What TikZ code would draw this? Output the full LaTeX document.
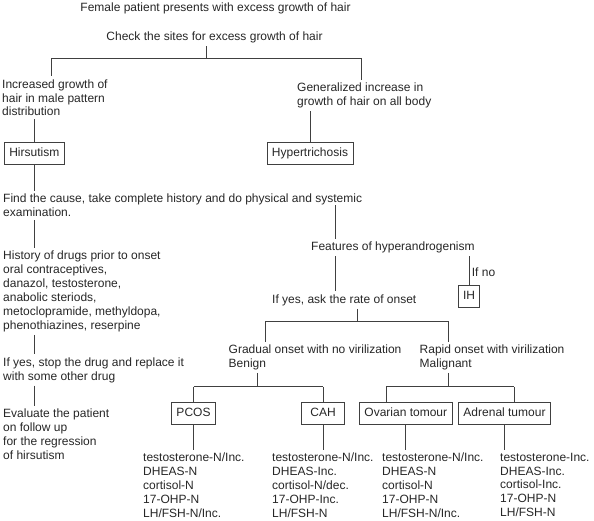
\documentclass[tikz,border=0pt]{standalone}
\usepackage{fontspec}
\setmainfont{Liberation Sans}

\begin{document}
\begin{tikzpicture}[x=1pt,y=-1pt,
  txt/.style={inner xsep=0pt,inner ysep=3pt,align=left,anchor=north west,
    font=\fontsize{12}{13.9}\selectfont,text=black!85},
  box/.style={draw=black!75,line width=0.7pt,inner xsep=5pt,minimum height=22pt,
    text height=8.6pt,text depth=2.5pt,font=\fontsize{12}{13.9}\selectfont,text=black!85},
  link/.style={draw=black!75,line width=0.7pt}]
\useasboundingbox (0,0) rectangle (594,520);

%top
\node[txt,anchor=north] (title) at (215.5,-0.6) {Female patient presents with excess growth of hair};
\node[txt,anchor=north] (check) at (214.5,28.7) {Check the sites for excess growth of hair};
\coordinate (top) at (206.5,58.3);
\coordinate (hL) at (51,58.3);
\coordinate (hR) at (361,58.3);
\draw[link] (check.south -| top) -- (top);
\draw[link] (hL) -- (hR);

%hirsutism
\node[txt] (incr) at (2,76.2) {Increased growth of\\hair in male pattern\\distribution};
\draw[link] (hL) -- (incr.north -| hL);
\node[box] (hirs) at (34.3,153.3) {Hirsutism};
\draw[link] (incr.south -| hirs.north) -- (hirs.north);

%hypertrichosis
\node[txt] (genr) at (297,79.7) {Generalized increase in\\growth of hair on all body};
\draw[link] (hR) -- (genr.north -| hR);
\node[box] (hyp) at (310,153) {Hypertrichosis};
\draw[link] (genr.south -| hyp.north) -- (hyp.north);

%history
\node[txt] (find) at (3,191) {Find the cause, take complete history and do physical and systemic\\examination.};
\draw[link] (hirs.south) -- (find.north -| hirs.south);
\node[txt] (hist) at (3,247.7) {History of drugs prior to onset\\oral contraceptives,\\danazol, testosterone,\\anabolic steriods,\\metoclopramide, methyldopa,\\phenothiazines, reserpine};
\draw[link] (find.south -| hirs.south) -- (hist.north -| hirs.south);
\node[txt] (stop) at (3,354.2) {If yes, stop the drug and replace it\\with some other drug};
\draw[link] (hist.south -| hirs.south) -- (stop.north -| hirs.south);
\node[txt] (eval) at (3,405.7) {Evaluate the patient\\on follow up\\for the regression\\of hirsutism};
\draw[link] (stop.south -| hirs.south) -- (eval.north -| hirs.south);

%hyperandrogenism
\coordinate (f1) at (335,205);
\node[txt] (feat) at (311,238.7) {Features of hyperandrogenism};
\draw[link] (f1) -- (feat.north -| f1);
\node[txt] (rate) at (272,291.2) {If yes, ask the rate of onset};
\draw[link] (feat.south -| f1) -- (rate.north -| f1);
\node[box,inner xsep=4.5pt] (ih) at (469,296.5) {IH};
\draw[link] (feat.south -| ih.north) -- (ih.north);
\node[txt] (ifno) at (471.7,264.4) {If no};

%onset
\coordinate (r1) at (357,321.7);
\coordinate (rL) at (265,321.7);
\coordinate (rR) at (448.5,321.7);
\draw[link] (rate.south -| r1) -- (r1);
\draw[link] (rL) -- (rR);
\node[txt] (grad) at (228.5,341.5) {Gradual onset with no virilization\\Benign};
\node[txt] (rapid) at (419.5,341.5) {Rapid onset with virilization\\Malignant};
\draw[link] (rL) -- (grad.north -| rL);
\draw[link] (rR) -- (rapid.north -| rR);

%benign
\node[box,minimum width=43pt] (pcos) at (193.5,413) {PCOS};
\node[box,minimum width=43pt] (cah) at (323,413) {CAH};
\coordinate (g1) at (257.5,386.8);
\draw[link] (grad.south -| g1) -- (g1);
\draw[link] (g1 -| pcos.north) -- (pcos.north);
\draw[link] (g1 -| cah.north) -- (cah.north);
\draw[link] (g1 -| pcos.north) -- (g1 -| cah.north);

%malignant
\node[box] (ovar) at (405.8,413) {Ovarian tomour};
\node[box] (adr) at (504.5,413) {Adrenal tumour};
\coordinate (mL) at (386,386.8);
\coordinate (mR) at (514,386.8);
\draw[link] (rapid.south -| rR) -- (rR |- mL);
\draw[link] (mL) -- (mR);
\draw[link] (mL) -- (ovar.north -| mL);
\draw[link] (mR) -- (adr.north -| mR);

%hormones
\node[txt] (d1) at (143,449.7) {testosterone-N/Inc.\\DHEAS-N\\cortisol-N\\17-OHP-N\\LH/FSH-N/Inc.};
\node[txt] (d2) at (272,449.7) {testosterone-N/Inc.\\DHEAS-Inc.\\cortisol-N/dec.\\17-OHP-Inc.\\LH/FSH-N};
\node[txt] (d3) at (382,449.7) {testosterone-N/Inc.\\DHEAS-N\\cortisol-N\\17-OHP-N\\LH/FSH-N/Inc.};
\node[txt] (d4) at (500,449.7) {testosterone-Inc.\\DHEAS-Inc.\\cortisol-Inc.\\17-OHP-N\\LH/FSH-N};
\draw[link] (pcos.south) -- (d1.north -| pcos.south);
\draw[link] (cah.south) -- (d2.north -| cah.south);
\draw[link] (ovar.south) -- (d3.north -| ovar.south);
\draw[link] (adr.south) -- (d4.north -| adr.south);
\end{tikzpicture}
\end{document}
